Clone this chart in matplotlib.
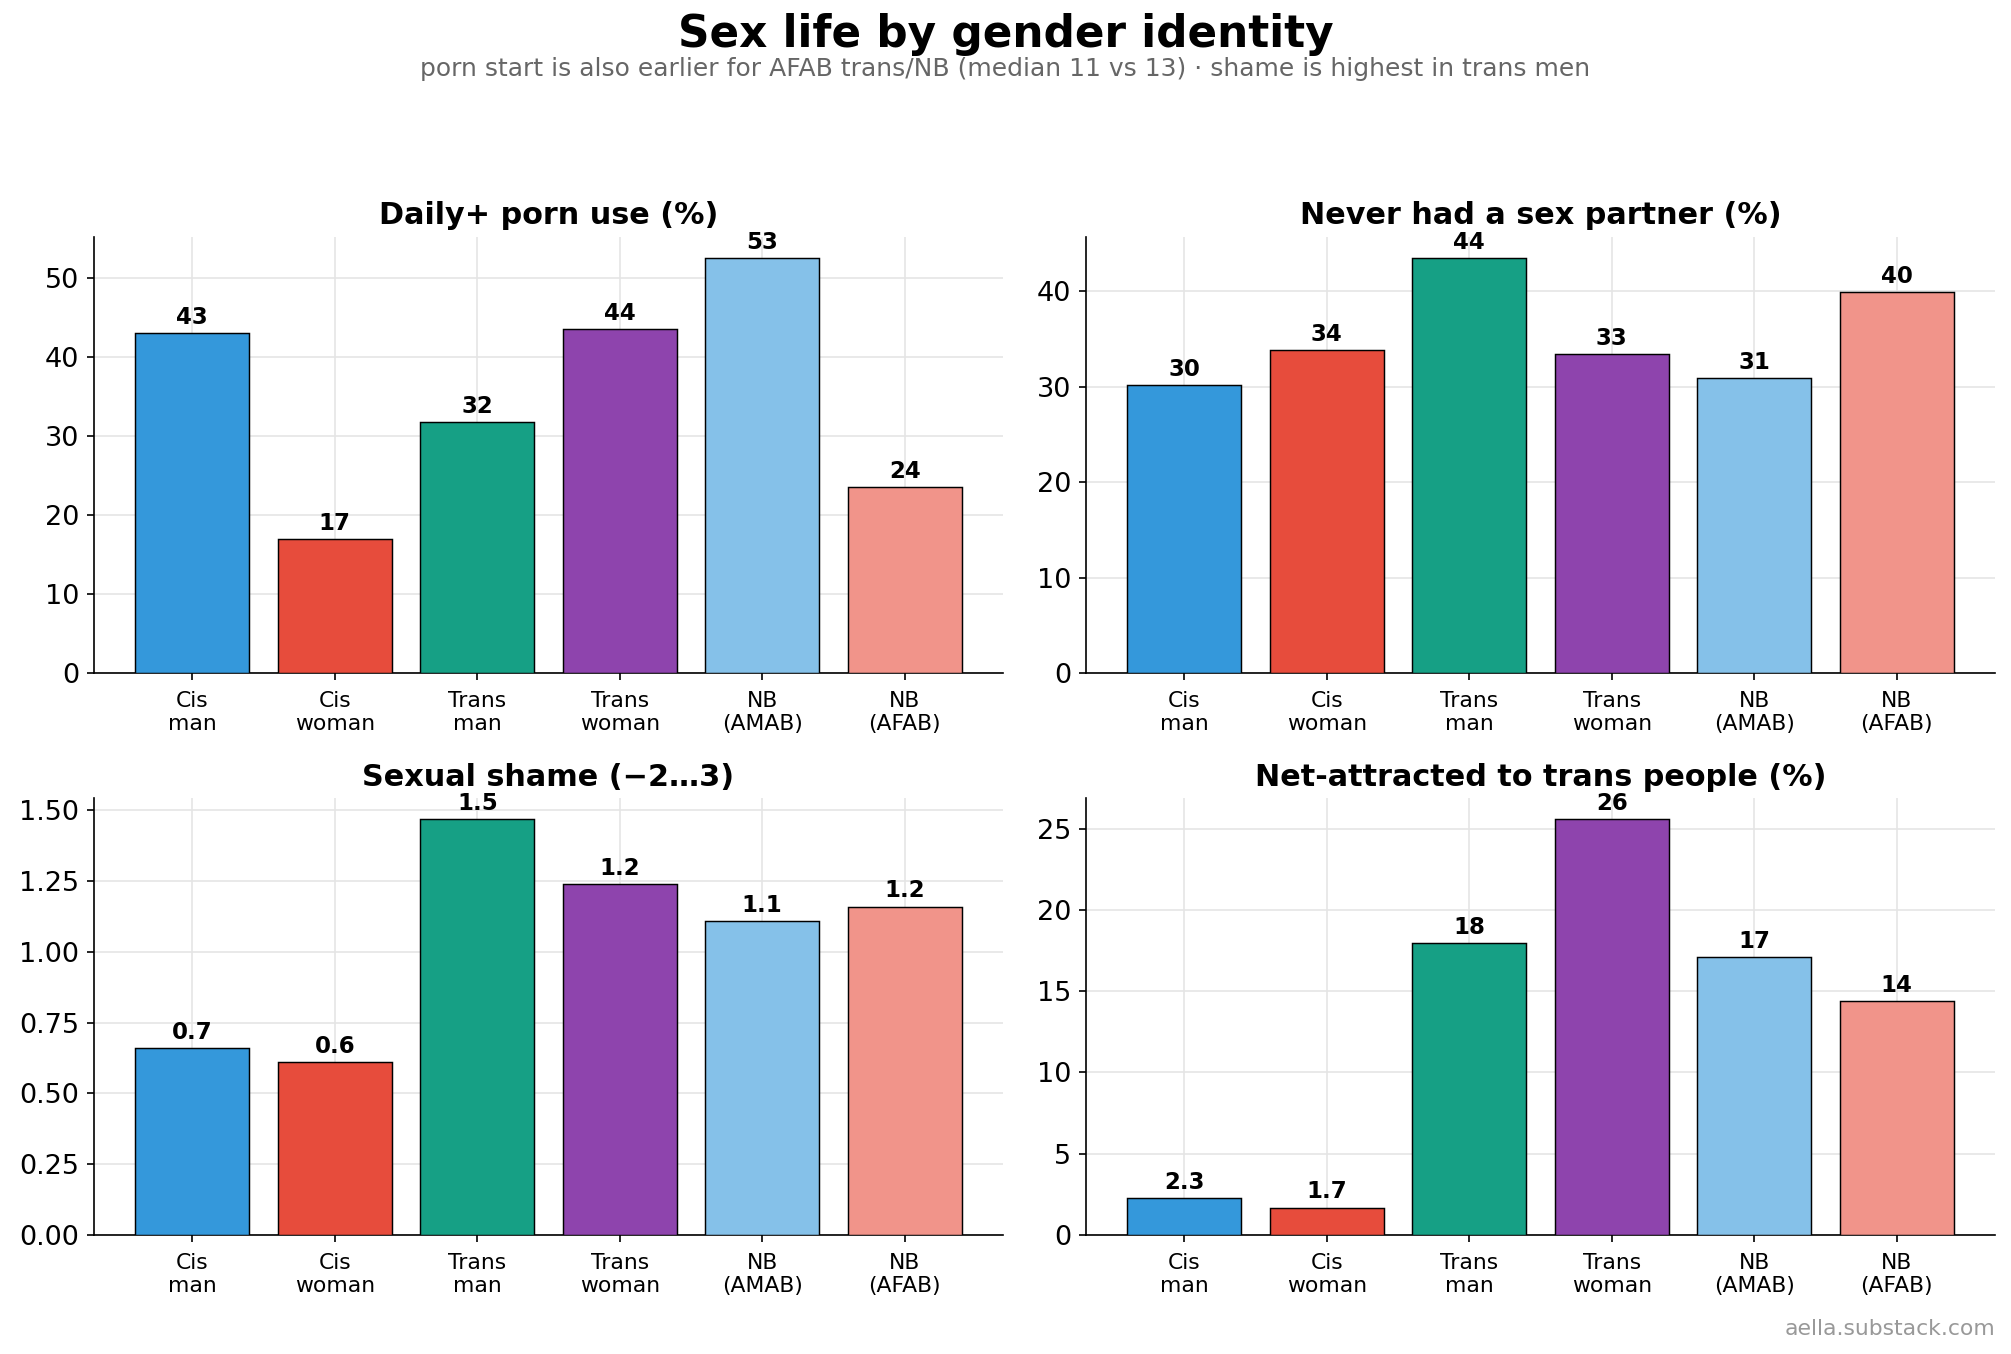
import matplotlib
matplotlib.use("Agg")
import matplotlib.pyplot as plt
from matplotlib.ticker import MultipleLocator
import numpy as np

groups = ["Cis\nman", "Cis\nwoman", "Trans\nman", "Trans\nwoman", "NB\n(AMAB)", "NB\n(AFAB)"]
colors = ["#3498db", "#e74c3c", "#16a085", "#8e44ad", "#85c1e9", "#f1948a"]

porn_daily = [43.1, 17.0, 31.8, 43.6, 52.6, 23.6]
never_partner = [30.2, 33.8, 43.5, 33.4, 30.9, 39.9]
shame = [0.66, 0.61, 1.47, 1.24, 1.11, 1.16]
trans_attracted = [2.26, 1.69, 17.95, 25.6, 17.1, 14.4]

titles = ["Daily+ porn use (%)", "Never had a sex partner (%)",
          "Sexual shame (\u22122\u20263)", "Net-attracted to trans people (%)"]
series = [porn_daily, never_partner, shame, trans_attracted]
ysteps = [10, 10, 0.25, 5]

W, H = 2011, 1354
fig = plt.figure(figsize=(W / 150, H / 150), dpi=150)

# axes boxes in pixels (left, right, top, bottom)
boxes = [(94, 1003, 237, 673), (1086, 1995, 237, 673),
         (94, 1003, 798, 1235), (1086, 1995, 798, 1235)]

x = np.arange(len(groups))
for (l, r, t, b), title, vals, step in zip(boxes, titles, series, ysteps):
    ax = fig.add_axes([l / W, 1 - b / H, (r - l) / W, (b - t) / H])
    ax.bar(x, vals, width=0.8, color=colors, edgecolor="black", linewidth=0.7, zorder=3)
    for xi, v in zip(x, vals):
        lab = f"{v:.0f}" if v >= 10 else f"{v:.1f}"
        ax.annotate(lab, (xi, v), xytext=(0, 2), textcoords="offset points",
                    ha="center", va="bottom", fontsize=11, fontweight="bold")
    ax.set_ylim(0, max(vals) * 1.05)
    ax.yaxis.set_major_locator(MultipleLocator(step))
    ax.set_xticks(x)
    ax.set_xticklabels(groups, fontsize=10.5)
    ax.tick_params(axis="x", pad=5)
    ax.tick_params(axis="y", labelsize=13)
    ax.grid(True, color="#e5e5e5", linewidth=0.8, zorder=0)
    ax.set_axisbelow(True)
    ax.spines["top"].set_visible(False)
    ax.spines["right"].set_visible(False)
    ax.set_title(title, fontsize=14.5, fontweight="bold", pad=6)

fig.text(0.5, 1 - 35 / H, "Sex life by gender identity", ha="center", va="center",
         fontsize=21, fontweight="bold")
fig.text(0.5, 1 - 69 / H,
         "porn start is also earlier for AFAB trans/NB (median 11 vs 13) \u00b7 shame is highest in trans men",
         ha="center", va="center", fontsize=12, color="#666666")
fig.text(1995 / W, 1 - 1329 / H, "aella.substack.com", ha="right", va="center",
         fontsize=10.5, color="#999999")

fig.savefig("out.png", dpi=150)
